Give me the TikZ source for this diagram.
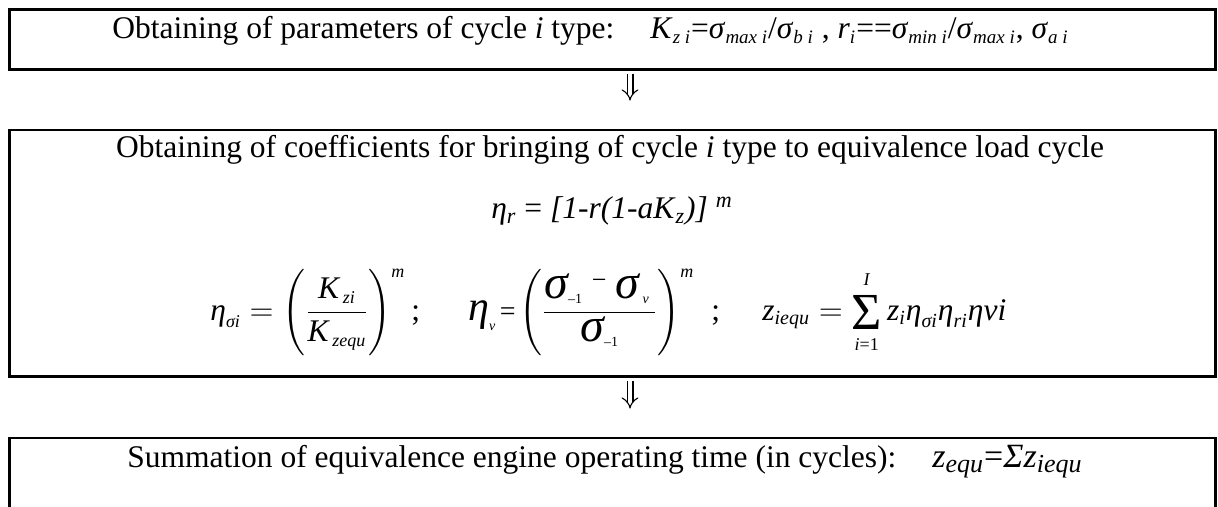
\documentclass[tikz,border=0pt]{standalone}
\usepackage{fix-cm}
\usepackage{amsmath}
\usepackage{fontspec}
\setmainfont{Liberation Serif}
\usetikzlibrary{fit,arrows.meta}
\newcommand\sz[2]{\text{\fontsize{#1}{#1}\selectfont\itshape #2}}
\newcommand\up[2]{\text{\fontsize{#1}{#1}\selectfont\upshape #2}}
\newcommand\sbs[1]{\textsubscript{\fontsize{9.5}{10}\selectfont\itshape #1}}
\begin{document}
\begin{tikzpicture}[x=0.5pt,y=-0.5pt,
  box/.style={draw, line width=1.4pt, inner sep=0pt},
  txt/.style={inner sep=0pt, anchor=base west, font=\fontsize{15.75}{19}\selectfont},
  dbl/.style={double, double distance=2.4pt, line width=0.55pt,
    -{Implies[length=4pt,width=9pt]}, shorten <=1.5pt, shorten >=14pt}]
\useasboundingbox (0,0) rectangle (1218,507);
\clip (0,0) rectangle (1218,507);
% boxes
\node[box, fit={(9.5,9.5) (1215.5,69.5)}] (b1) {};
\node[box, fit={(9.5,130) (1215.5,376.5)}] (b2) {};
\node[box, fit={(9.5,438) (1215.5,580)}] (b3) {};
\coordinate (ax) at (630,0);
% arrows
\draw[dbl] (b1.south -| ax) -- (b2.north -| ax);
\draw[dbl] (b2.south -| ax) -- (b3.north -| ax);
% box 1
\node[txt] (t1) at (112,39) {Obtaining of parameters of cycle \textit{i} type:};
\node[txt] (t1f) at (650,39) {\textit{K}\sbs{z i}=\textit{σ}\sbs{max i}/\textit{σ}\sbs{b i} , \textit{r}\sbs{i}==\textit{σ}\sbs{min i}/\textit{σ}\sbs{max i}, \textit{σ}\sbs{a i}};
% box 2
\node[txt, anchor=base] (t2) at (610,158) {Obtaining of coefficients for bringing of cycle \textit{i} type to equivalence load cycle};
\node[txt, anchor=base] (t3) at (612,219) {\textit{η}\textsubscript{\textit{r}} = \textit{[1-r(1-aK}\textsubscript{\textit{z}}\textit{)]} \textsuperscript{\textit{m}}};
\node[txt] (f1) at (210,320) {$\sz{15.75}{η}_{\sz{9}{σi}} = \left(\vcenter{\hbox{\rule{0pt}{42pt}}}\dfrac{\sz{15.75}{K}_{\,\sz{9}{zi}}}{\sz{15.75}{K}_{\,\sz{9}{zequ}}}\right)^{\sz{9}{m}}$};
\node[txt] (s1) at (411,320) {;};
\node[txt] (f2) at (468,320) {$\sz{21}{η}_{\sz{7}{v}} \!\mathrel{\up{14}{=}}\! \left(\vcenter{\hbox{\rule{0pt}{42pt}}}\dfrac{\sz{24}{σ}_{\up{7}{–1}}\;\raisebox{5pt}{\up{13}{−}}\;\sz{24}{σ}_{\,\sz{7}{v}}\,}{\sz{24}{σ}_{\up{7}{–1}}}\right)^{\sz{9}{m}}$};
\node[txt] (s2) at (711,320) {;};
\node[txt] (f3) at (762,320) {$\sz{15.75}{z}_{\sz{10}{iequ}} = \mathop{\vcenter{\hbox{\up{26}{Σ}}}}\limits_{\raisebox{-2pt}{$\sz{9}{i}\up{9}{=1}$}}^{\raisebox{2pt}{$\sz{9}{I}$}} \sz{15.75}{z}_{\sz{10}{i}}\sz{15.75}{η}_{\sz{10}{σi}}\sz{15.75}{η}_{\sz{10}{ri}}\sz{15.75}{ηvi}$};
% box 3
\node[txt] (t5) at (127,467) {Summation of equivalence engine operating time (in cycles):};
\node[txt] (t5f) at (932,467) {\fontsize{17}{20}\selectfont\textit{z}\textsubscript{\textit{\fontsize{13}{15}\selectfont equ}}=\textit{Σz}\textsubscript{\textit{\fontsize{13}{15}\selectfont iequ}}};
\end{tikzpicture}
\end{document}
